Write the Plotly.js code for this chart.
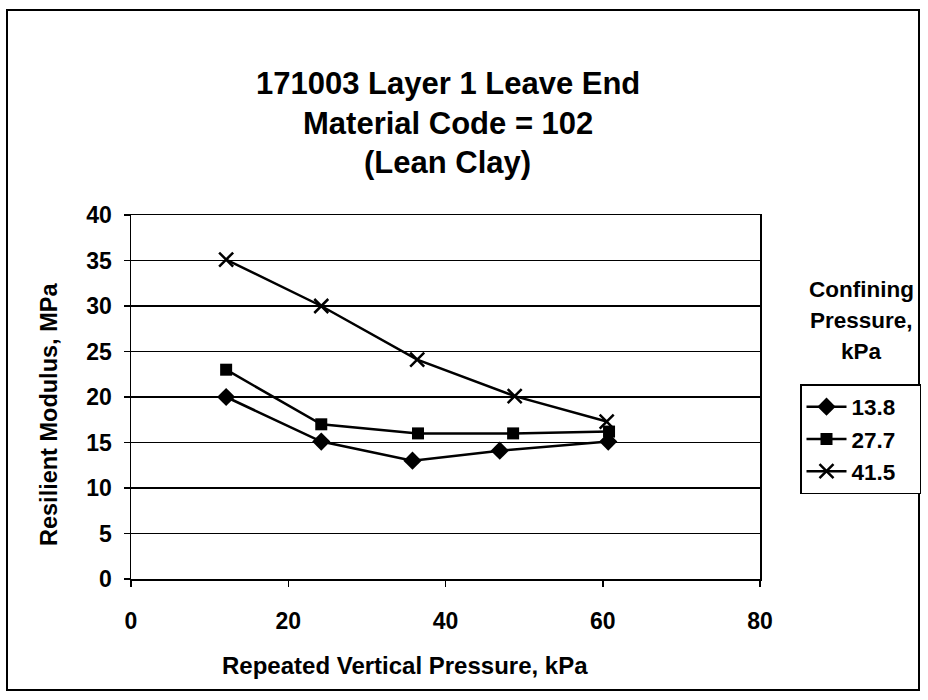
<!DOCTYPE html>
<html>
<head>
<meta charset="utf-8">
<script src="https://cdn.plot.ly/plotly-3.0.1.min.js"></script>
<style>html,body{margin:0;padding:0;background:#fff;}#chart{width:928px;height:700px;}</style>
</head>
<body>
<div id="chart"></div>
<script>
// Data
const seriesNames = ["13.8", "27.7", "41.5"];
const x138 = [12.1, 24.2, 35.8, 46.9, 60.7];
const y138 = [20.0, 15.1, 13.0, 14.1, 15.1];
const x277 = [12.1, 24.2, 36.5, 48.6, 60.8];
const y277 = [23.0, 17.0, 16.0, 16.0, 16.2];
const x415 = [12.1, 24.2, 36.4, 48.8, 60.5];
const y415 = [35.1, 30.0, 24.1, 20.1, 17.3];
const xTicks = [0, 20, 40, 60, 80];
const yTicks = [0, 5, 10, 15, 20, 25, 30, 35, 40];
const titleLines = ["171003 Layer 1 Leave End", "Material Code = 102", "(Lean Clay)"];
const legendTitleLines = ["Confining", "Pressure,", "kPa"];

const FONT = "Liberation Sans, Arial, sans-serif";
const lineStyle = {color: "black", width: 2.5};
const pad = "\u00a0\u00a0\u00a0";

const traces = [
  {x: x138, y: y138, name: seriesNames[0] + pad, mode: "lines+markers", line: lineStyle,
   marker: {symbol: "diamond", size: 14, color: "black"}},
  {x: x277, y: y277, name: seriesNames[1] + pad, mode: "lines+markers", line: lineStyle,
   marker: {symbol: "square", size: 12, color: "black"}},
  {x: x415, y: y415, name: seriesNames[2] + pad, mode: "lines+markers", line: lineStyle,
   marker: {symbol: "x-thin", size: 14, color: "black", line: {color: "black", width: 2.5}}}
];

// plot area in pixels: x 131..760, y 215..579
const L = 131, R = 760, T = 215, B = 579;
const px = v => (v - L) / (R - L);
const py = v => (B - v) / (B - T);

const annotations = [];
[84, 123, 162].forEach((yy, i) => {
  annotations.push({text: "<b>" + titleLines[i] + "</b>", xref: "paper", yref: "paper",
    x: px(448), y: py(yy), xanchor: "center", yanchor: "middle", showarrow: false,
    font: {family: FONT, size: 31, color: "black"}});
});
[289, 320, 351].forEach((yy, i) => {
  annotations.push({text: "<b>" + legendTitleLines[i] + "</b>", xref: "paper", yref: "paper",
    x: px(862), y: py(yy), xanchor: "center", yanchor: "middle", showarrow: false,
    font: {family: FONT, size: 22.5, color: "black"}});
});
annotations.push({text: "<b>Resilient Modulus, MPa</b>", xref: "paper", yref: "paper",
  x: px(49), y: py(415), xanchor: "center", yanchor: "middle", textangle: -90, showarrow: false,
  font: {family: FONT, size: 23.5, color: "black"}});
annotations.push({text: "<b>Repeated Vertical Pressure, kPa</b>", xref: "paper", yref: "paper",
  x: px(405), y: py(665), xanchor: "center", yanchor: "middle", showarrow: false,
  font: {family: FONT, size: 24, color: "black"}});

const tickFont = {family: FONT, size: 23, color: "black", weight: "bold"};

const layout = {
  width: 928, height: 700,
  margin: {l: L, r: 928 - R, t: T, b: 700 - B, pad: 0, autoexpand: false},
  paper_bgcolor: "white", plot_bgcolor: "white",
  font: {family: FONT, color: "black"},
  showlegend: true,
  legend: {x: px(800), y: py(384), xanchor: "left", yanchor: "top",
    bordercolor: "black", borderwidth: 1.5, bgcolor: "white", itemwidth: 40,
    font: {family: FONT, size: 22.5, color: "black", weight: "bold"}},
  xaxis: {range: [0, 80], tickvals: xTicks, ticktext: xTicks.map(String),
    showgrid: false, zeroline: false, showline: true, linecolor: "black", linewidth: 1.5,
    mirror: true, ticks: "outside", ticklen: 6, tickwidth: 1.5, tickcolor: "black",
    ticklabelstandoff: 15, tickfont: tickFont, fixedrange: true, automargin: false},
  yaxis: {range: [0, 40], tickvals: yTicks, ticktext: yTicks.map(String),
    showgrid: true, gridcolor: "black", gridwidth: 1.5, zeroline: false,
    showline: true, linecolor: "black", linewidth: 1.5, mirror: true,
    ticks: "outside", ticklen: 6, tickwidth: 1.5, tickcolor: "black",
    ticklabelstandoff: 7, tickfont: tickFont, fixedrange: true, automargin: false},
  annotations: annotations,
  shapes: [{type: "rect", xref: "paper", yref: "paper",
    x0: px(7), x1: px(919), y0: py(690), y1: py(10),
    line: {color: "black", width: 2}, fillcolor: "rgba(0,0,0,0)", layer: "below"}]
};

Plotly.newPlot("chart", traces, layout, {displayModeBar: false, staticPlot: true});
</script>
</body>
</html>
